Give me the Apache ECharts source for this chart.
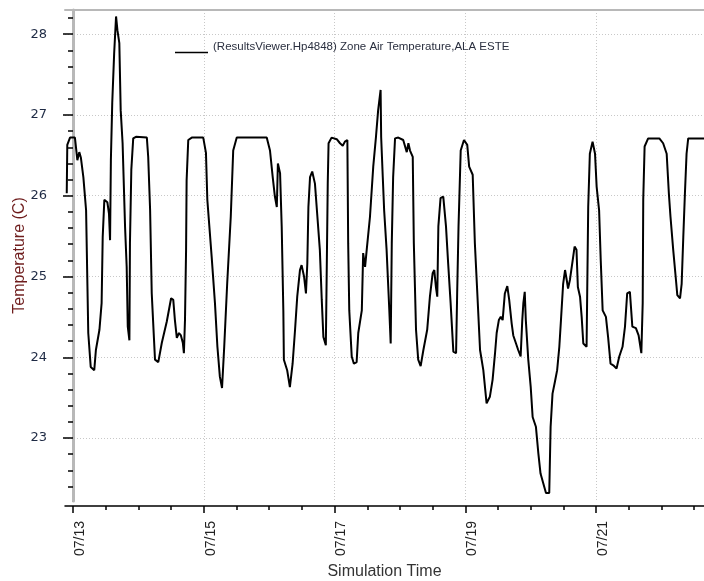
<!DOCTYPE html>
<html>
<head>
<meta charset="utf-8">
<script src="https://cdn.jsdelivr.net/npm/echarts@6/dist/echarts.min.js"></script>
<style>
  html, body { margin: 0; padding: 0; background: #fff; }
  #chart { width: 704px; height: 581px; }
</style>
</head>
<body>
<div id="chart"></div>
<script>
// hours since 07/13 00:00
const hours = [
  -2.3, -2.1, -1.1, 0.7, 1.6, 2.3, 2.9, 3.8, 4.8, 5.3, 5.6, 6.5, 7.8, 8.4, 9.7, 10.5, 10.9, 11.5, 12.6, 13.2,
  13.6, 13.9, 14.4, 15.1, 15.8, 16.3, 17.0, 17.5, 18.2, 19.1, 19.7, 20.1, 20.7, 20.9, 21.4, 22.1, 23.1, 27.1, 27.6, 28.3,
  28.9, 29.7, 30.1, 31.3, 32.6, 34.4, 36.0, 36.8, 37.4, 38.1, 38.9, 39.6, 40.3, 40.7, 41.1, 41.5, 41.7, 42.3, 43.6, 47.8,
  48.8, 49.3, 50.9, 52.1, 53.0, 53.9, 54.7, 55.5, 56.6, 57.9, 58.8, 60.1, 71.1, 72.3, 73.3, 74.1, 74.8, 75.2, 76.0, 76.6,
  77.2, 77.4, 78.6, 79.6, 80.6, 81.5, 82.3, 83.3, 83.9, 84.8, 85.5, 86.0, 86.4, 87.0, 87.8, 88.8, 89.7, 90.6, 91.3, 91.9,
  92.8, 93.1, 93.5, 93.8, 94.9, 96.8, 98.0, 99.0, 99.8, 100.7, 101.0, 101.4, 102.3, 103.1, 104.1, 104.7, 106.0, 106.5, 107.2, 107.8,
  109.0, 110.2, 111.2, 112.0, 112.9, 113.1, 113.7, 114.2, 115.1, 116.1, 116.6, 117.0, 117.5, 118.2, 119.4, 121.2, 122.5, 123.1, 123.7, 124.7,
  125.1, 125.9, 126.7, 127.6, 128.6, 130.0, 131.0, 132.0, 132.6, 133.2, 133.7, 134.1, 134.9, 135.9, 136.9, 137.7, 138.6, 139.6, 140.6, 141.0,
  141.5, 142.3, 143.5, 144.7, 145.4, 146.7, 147.5, 148.4, 149.4, 150.6, 151.8, 153.0, 154.0, 154.9, 155.5, 156.3, 157.0, 157.7, 158.5, 159.4,
  160.1, 161.0, 161.6, 162.6, 163.4, 164.3, 164.9, 165.3, 165.8, 166.2, 167.1, 168.0, 168.7, 169.9, 170.8, 171.6, 172.6, 173.6, 174.8, 175.3,
  176.0, 176.9, 177.7, 178.5, 179.1, 179.9, 180.6, 181.2, 181.7, 182.4, 183.4, 184.1, 184.8, 185.3, 186.1, 186.7, 187.3, 188.5, 188.7, 189.1,
  189.7, 190.7, 191.6, 192.2, 193.1, 193.7, 194.4, 195.6, 196.4, 197.3, 198.3, 199.5, 200.5, 201.7, 202.6, 203.4, 204.4, 205.3, 206.6, 207.6,
  208.6, 209.1, 209.3, 209.8, 211.1, 215.2, 216.6, 217.9, 218.7, 219.3, 220.3, 221.3, 221.8, 222.8, 223.4, 224.0, 224.6, 225.2, 225.8, 232.0
];
const temps = [
  26.03, 26.63, 26.72, 26.72, 26.44, 26.54, 26.47, 26.23, 25.82, 24.87, 24.30, 23.88, 23.84, 24.09, 24.34, 24.67, 25.49, 25.95, 25.92, 25.78,
  25.45, 26.44, 27.15, 27.76, 28.22, 28.05, 27.89, 27.06, 26.65, 25.62, 25.12, 24.38, 24.21, 25.41, 26.32, 26.71, 26.73, 26.72, 26.48, 25.82,
  24.79, 24.24, 23.97, 23.94, 24.18, 24.44, 24.73, 24.71, 24.46, 24.24, 24.30, 24.27, 24.18, 24.05, 24.46, 25.33, 26.19, 26.69, 26.72, 26.72,
  26.53, 25.95, 25.24, 24.67, 24.13, 23.76, 23.62, 24.13, 24.92, 25.74, 26.56, 26.72, 26.72, 26.56, 26.23, 25.99, 25.86, 26.40, 26.28, 25.62,
  24.58, 23.97, 23.84, 23.63, 23.92, 24.34, 24.75, 25.08, 25.14, 25.00, 24.79, 25.16, 25.86, 26.23, 26.30, 26.15, 25.74, 25.33, 24.71, 24.25,
  24.15, 25.00, 26.15, 26.65, 26.72, 26.70, 26.65, 26.62, 26.67, 26.69, 25.41, 24.58, 24.01, 23.92, 23.94, 24.30, 24.58, 25.29, 25.12, 25.33,
  25.74, 26.36, 26.73, 27.06, 27.31, 26.73, 26.23, 25.82, 25.33, 24.58, 24.17, 25.41, 26.23, 26.71, 26.72, 26.69, 26.54, 26.65, 26.56, 26.48,
  25.41, 24.34, 23.97, 23.89, 24.09, 24.34, 24.75, 25.04, 25.08, 24.87, 24.75, 25.62, 25.97, 25.99, 25.62, 25.16, 24.67, 24.07, 24.05, 24.79,
  25.62, 26.56, 26.69, 26.63, 26.36, 26.26, 25.41, 24.79, 24.09, 23.84, 23.43, 23.51, 23.72, 24.05, 24.30, 24.46, 24.50, 24.46, 24.79, 24.88,
  24.71, 24.42, 24.27, 24.17, 24.09, 24.01, 24.46, 24.67, 24.81, 24.46, 23.97, 23.63, 23.26, 23.14, 22.81, 22.56, 22.44, 22.32, 22.32, 23.14,
  23.55, 23.70, 23.84, 24.13, 24.46, 24.91, 25.08, 24.96, 24.85, 24.96, 25.20, 25.37, 25.33, 24.87, 24.75, 24.50, 24.17, 24.13, 24.71, 25.86,
  26.52, 26.67, 26.52, 26.11, 25.82, 25.20, 24.58, 24.50, 24.25, 23.92, 23.90, 23.86, 24.01, 24.13, 24.38, 24.79, 24.81, 24.38, 24.36, 24.27,
  24.05, 24.67, 25.95, 26.61, 26.71, 26.71, 26.65, 26.52, 26.03, 25.74, 25.33, 24.96, 24.77, 24.73, 24.91, 25.49, 26.03, 26.52, 26.71, 26.71
];
const xMajorTicks = [0, 48, 96, 144, 192];
const xMinorTicks = [0, 12, 24, 36, 48, 60, 72, 84, 96, 108, 120, 132, 144, 156, 168, 180, 192, 204, 216, 228];
const yMajorTicks = [23, 24, 25, 26, 27, 28];
const yMinorTicks = [22.4, 22.6, 22.8, 23, 23.2, 23.4, 23.6, 23.8, 24, 24.2, 24.4, 24.6, 24.8, 25, 25.2, 25.4, 25.6, 25.8,
  26, 26.2, 26.4, 26.6, 26.8, 27, 27.2, 27.4, 27.6, 27.8, 28, 28.2];

const X_MIN = -2.94, X_MAX = 231.6;
const Y_MIN = 22.22, Y_MAX = 28.3;
const seriesName = '(ResultsViewer.Hp4848) Zone Air Temperature,ALA ESTE';

const seriesData = hours.map((h, i) => [h, temps[i]]);

const chart = echarts.init(document.getElementById('chart'));

const dotted = { show: true, lineStyle: { color: '#c8c8c8', type: [1, 2], width: 1 } };

chart.setOption({
  animation: false,
  textStyle: { fontFamily: 'Liberation Sans' },
  grid: { left: 65, right: 0, top: 10, bottom: 80, containLabel: false, outerBoundsMode: 'none' },
  legend: {
    left: 170,
    top: 36,
    icon: 'rect',
    itemWidth: 33,
    itemHeight: 1.4,
    itemGap: 6,
    formatter: '{t|{name}}',
    textStyle: {
      fontFamily: 'Liberation Sans', fontSize: 11.5, color: '#2a2f3f',
      rich: { t: { fontFamily: 'Liberation Sans', fontSize: 11.5, color: '#2a2f3f', padding: [0, 0, 11, 0] } }
    },
    data: [seriesName]
  },
  xAxis: [
    {
      type: 'value', min: X_MIN, max: X_MAX, position: 'bottom', offset: 5,
      name: 'Simulation Time', nameLocation: 'middle', nameGap: 58, nameMoveOverlap: false,
      nameTextStyle: { fontSize: 16, color: '#333', fontFamily: 'Liberation Sans' },
      axisLine: { show: true, lineStyle: { color: '#000', width: 1.5 } },
      axisTick: { show: true, customValues: xMajorTicks, length: 7, lineStyle: { color: '#000', width: 1.5 } },
      axisLabel: {
        customValues: xMajorTicks, rotate: 90, margin: 15, verticalAlign: 'top',
        fontSize: 14, color: '#222',
        formatter: v => '07/' + String(13 + Math.round(v / 24)).padStart(2, '0')
      },
      splitLine: dotted
    },
    {
      type: 'value', min: X_MIN, max: X_MAX, position: 'bottom', offset: 5,
      axisLine: { show: false },
      axisTick: { show: true, customValues: xMinorTicks, length: 4, lineStyle: { color: '#000', width: 1.5 } },
      axisLabel: { show: false },
      splitLine: { show: false }
    },
    {
      type: 'value', min: X_MIN, max: X_MAX, position: 'top',
      axisLine: { show: true, lineStyle: { color: '#b8b8b8', width: 2 } },
      axisTick: { show: false }, axisLabel: { show: false }, splitLine: { show: false }
    }
  ],
  yAxis: [
    {
      type: 'value', min: Y_MIN, max: Y_MAX, position: 'left', offset: 3,
      name: 'Temperature (C)', nameLocation: 'middle', nameGap: 34, nameRotate: 90, nameMoveOverlap: false,
      nameTextStyle: { fontSize: 16, color: '#6e1c1c', fontFamily: 'Liberation Sans' },
      axisLine: { show: true, lineStyle: { color: '#000', width: 1.5 } },
      axisTick: { show: true, customValues: yMajorTicks, length: 10, lineStyle: { color: '#000', width: 1.5 } },
      axisLabel: { customValues: yMajorTicks, margin: 15, fontSize: 13, color: '#1e2a44', fontFamily: 'DejaVu Sans' },
      splitLine: dotted
    },
    {
      type: 'value', min: Y_MIN, max: Y_MAX, position: 'left', offset: 3,
      axisLine: { show: false },
      axisTick: { show: true, customValues: yMinorTicks, length: 5, lineStyle: { color: '#000', width: 1.5 } },
      axisLabel: { show: false },
      splitLine: { show: false }
    },
    {
      type: 'value', min: Y_MIN, max: Y_MAX, position: 'left', offset: 0,
      axisLine: { show: true, lineStyle: { color: '#b8b8b8', width: 3 } },
      axisTick: { show: false }, axisLabel: { show: false }, splitLine: { show: false }
    }
  ],
  series: [
    {
      name: seriesName,
      type: 'line',
      xAxisIndex: 0,
      yAxisIndex: 0,
      data: seriesData,
      showSymbol: false,
      symbol: 'none',
      clip: true,
      lineStyle: { color: '#000', width: 2 },
      itemStyle: { color: '#000' }
    }
  ]
});
</script>
</body>
</html>
